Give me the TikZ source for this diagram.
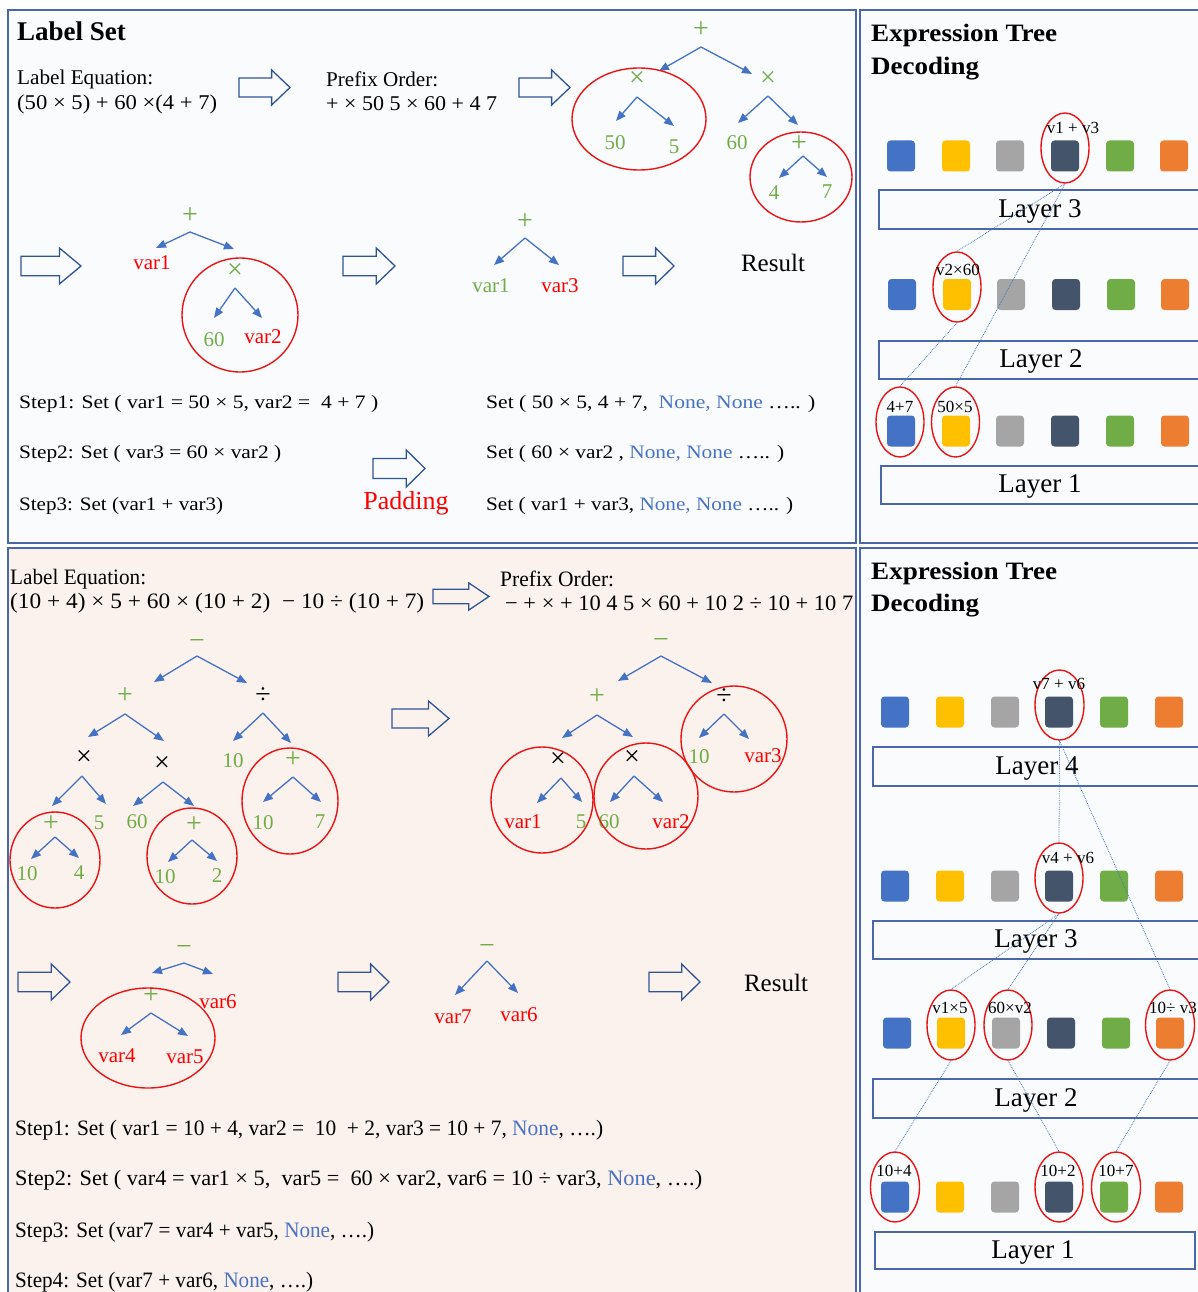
\documentclass[tikz,border=0pt]{standalone}
\usepackage{fontspec}
\setmainfont{Liberation Serif}
\usepackage{graphicx}
\usetikzlibrary{arrows.meta,shapes.geometric,calc}
\definecolor{pborder}{RGB}{74,104,168}
\definecolor{pfillA}{RGB}{249,251,253}
\definecolor{pfillB}{RGB}{252,242,237}
\definecolor{abluea}{RGB}{68,114,196}
\definecolor{bkblue}{RGB}{47,85,151}
\definecolor{tgreen}{RGB}{112,173,71}
\definecolor{tred}{RGB}{255,0,0}
\definecolor{ovred}{RGB}{235,20,20}
\definecolor{sqblue}{RGB}{68,114,196}
\definecolor{sqyellow}{RGB}{255,192,0}
\definecolor{sqgray}{RGB}{165,165,165}
\definecolor{sqdark}{RGB}{68,84,106}
\definecolor{sqgreen}{RGB}{112,173,71}
\definecolor{sqorange}{RGB}{237,125,49}
\definecolor{noneblue}{RGB}{72,114,196}
\newcommand\fsz[1]{\fontsize{#1}{#1}\selectfont}
\newcommand\fitw[2]{\resizebox{#1pt}{\height}{#2}}
\newcommand\bkarr[4]{%
 \pgfmathsetmacro\bkym{(#3+#4)/2}%
 \pgfmathsetmacro\bkbh{0.27*(#4-#3)}%
 \pgfmathsetmacro\bkxh{#2-0.36*(#2-#1)}%
 \draw[blockarr] (#1,\bkym-\bkbh) -- (\bkxh,\bkym-\bkbh) -- (\bkxh,#3) -- (#2,\bkym) -- (\bkxh,#4) -- (\bkxh,\bkym+\bkbh) -- (#1,\bkym+\bkbh) -- cycle;}
\tikzset{
 panel/.style={draw=pborder,line width=1.6},
 tarr/.style={draw=abluea,line width=1.3,-{Triangle[length=10pt,width=8pt]}},
 redov/.style={draw=ovred,line width=1.4,ellipse,inner sep=0},
 lbl/.style={inner sep=0,font=\fsz{21}},
 tg/.style={lbl,text=tgreen},
 tr/.style={lbl,text=tred},
 tk/.style={lbl,text=black},
 opg/.style={inner sep=0,font=\fsz{28},text=tgreen,yshift=-2pt},
 opk/.style={inner sep=0,font=\fsz{28},text=black,yshift=-1pt},
 opm/.style={opg,yshift=-3pt},
 txt/.style={inner sep=0,anchor=west,yshift=-2pt},
 sq/.style={rounded corners=3.5,minimum width=28,minimum height=31,inner sep=0},
 layerbox/.style={draw=pborder,line width=1.6,anchor=north west,inner sep=0},
 layertxt/.style={inner sep=0,font=\fsz{27},yshift=-2.5pt},
 small/.style={inner sep=0,font=\fsz{17}},
 dotl/.style={draw=abluea,densely dotted,line width=0.8},
 blockarr/.style={draw=bkblue,line width=1.3,line join=miter},
}
\begin{document}
\begin{tikzpicture}[x=1pt,y=-1pt]
\useasboundingbox (0,0) rectangle (1198,1292);
\fill[white] (0,0) rectangle (1198,1292);
\draw[panel,fill=pfillA] (8,10) rectangle (856,543);
\draw[panel,fill=pfillA] (860,10) rectangle (1215,543);
\draw[panel,fill=pfillB] (8,548) rectangle (856,1310);
\draw[panel,fill=pfillA] (860,548) rectangle (1215,1310);

% ---------------- top-left panel ----------------
\node[txt,font=\fsz{27}\bfseries] (ls) at (17,29) {Label Set};
\node[txt,font=\fsz{21}] (le1) at (17,77) {\fitw{136}{Label Equation:}};
\node[txt,font=\fsz{21}] (le2) at (17,102) {\fitw{200}{(50 × 5) + 60 ×(4 + 7)}};
\bkarr{239}{290}{70}{105}
\node[txt,font=\fsz{21}] (po1) at (326,77) {\fitw{112}{Prefix Order:}};
\node[txt,font=\fsz{21}] (po2) at (326,102) {\fitw{171}{+ × 50 5 × 60 + 4 7}};
\bkarr{519}{570}{70}{105}

\node[opg] (a0) at (701,28) {+};
\node[opg] (a1) at (637,77) {×};
\node[opg] (a2) at (768,77) {×};
\node[tg] (a3) at (615,143) {50};
\node[tg] (a4) at (674,147) {5};
\node[tg] (a5) at (737,143) {60};
\node[opg] (a6) at (799,142) {+};
\node[tg] (a7) at (774,193) {4};
\node[tg] (a8) at (827,192) {7};
\draw[tarr] ($(a0)+(0,17)$) -- ($(a1)+(22,-8)$);
\draw[tarr] ($(a0)+(0,17)$) -- ($(a2)+(-16,-5)$);
\draw[tarr] ($(a1)+(0,18)$) -- ($(a3)+(1,-22)$);
\draw[tarr] ($(a1)+(0,18)$) -- ($(a4)+(0,-21)$);
\draw[tarr] ($(a2)+(0,17)$) -- ($(a5)+(1,-20)$);
\draw[tarr] ($(a2)+(0,17)$) -- ($(a6)+(-1,-19)$);
\draw[tarr] ($(a6)+(4,12)$) -- ($(a7)+(5,-15)$);
\draw[tarr] ($(a6)+(4,12)$) -- ($(a8)+(0,-15)$);
\node[redov,minimum width=134,minimum height=102] (oa1) at (639,119) {};
\node[redov,minimum width=102,minimum height=90] (oa2) at (801,177) {};

\bkarr{21}{81}{248}{284}
\node[opg] (b0) at (190,214) {+};
\node[tr] (b1) at (152,263) {var1};
\node[opg] (b2) at (235,269) {×};
\node[tg] (b3) at (214,340) {60};
\node[tr] (b4) at (263,337) {var2};
\draw[tarr] ($(b0)+(0,16)$) -- ($(b1)+(4,-15)$);
\draw[tarr] ($(b0)+(0,16)$) -- ($(b2)+(-1,-22)$);
\draw[tarr] ($(b2)+(0,17)$) -- ($(b3)+(0,-22)$);
\draw[tarr] ($(b2)+(0,17)$) -- ($(b4)+(-1,-19)$);
\node[redov,minimum width=116,minimum height=114] (ob1) at (240,315) {};

\bkarr{343}{395}{248}{284}
\node[opg] (c0) at (525,220) {+};
\node[tg] (c1) at (491,286) {var1};
\node[tr] (c2) at (560,286) {var3};
\draw[tarr] ($(c0)+(0,16)$) -- ($(c1)+(3,-21)$);
\draw[tarr] ($(c0)+(0,16)$) -- ($(c2)+(-1,-21)$);
\bkarr{623}{674}{248}{284}
\node[font=\fsz{25},inner sep=0] (res1) at (773,263) {Result};

\node[txt,font=\fsz{19}] (s1) at (19,402) {\fitw{359}{Step1: Set ( var1 = 50 × 5, var2 =\ \ 4 + 7 )}};
\node[txt,font=\fsz{19}] (s2) at (19,452) {\fitw{262}{Step2: Set ( var3 = 60 × var2 )}};
\node[txt,font=\fsz{19}] (s3) at (19,504) {\fitw{204}{Step3: Set (var1 + var3)}};
\node[txt,font=\fsz{19}] (r1) at (486,402) {\fitw{329}{Set ( 50 × 5, 4 + 7,\ \ \textcolor{noneblue}{None, None} ….. )}};
\node[txt,font=\fsz{19}] (r2) at (486,452) {\fitw{298}{Set ( 60 × var2 , \textcolor{noneblue}{None, None} ….. )}};
\node[txt,font=\fsz{19}] (r3) at (486,504) {\fitw{307}{Set ( var1 + var3, \textcolor{noneblue}{None, None} ….. )}};
\bkarr{373}{425}{450}{487}
\node[text=tred,font=\fsz{26},inner sep=0] (pad) at (406,503) {Padding};

% ---------------- top-right panel ----------------
\node[txt,font=\fsz{25}\bfseries] (et1) at (871,33) {\fitw{186}{Expression Tree}};
\node[txt,font=\fsz{25}\bfseries] (et2) at (871,67) {\fitw{108}{Decoding}};
\node[layerbox,minimum width=340,minimum height=39] (lbA3) at (878,189) {};
\node[layerbox,minimum width=340,minimum height=38] (lbA2) at (878,340) {};
\node[layerbox,minimum width=340,minimum height=38] (lbA1) at (880,465) {};
\node[layertxt] (ltA3) at (1040,209) {Layer 3};
\node[layertxt] (ltA2) at (1041,359) {Layer 2};
\node[layertxt] (ltA1) at (1040,484) {Layer 1};
\foreach \xx/\cc [count=\i] in {901/sqblue,956/sqyellow,1010/sqgray,1065/sqdark,1120/sqgreen,1174/sqorange}
  {\node[sq,fill=\cc] (qA3-\i) at (\xx,156) {};}
\foreach \xx/\cc [count=\i] in {902/sqblue,957/sqyellow,1011/sqgray,1066/sqdark,1121/sqgreen,1175/sqorange}
  {\node[sq,fill=\cc] (qA2-\i) at (\xx,294.5) {};}
\foreach \xx/\cc [count=\i] in {901/sqblue,956/sqyellow,1010/sqgray,1065/sqdark,1120/sqgreen,1175/sqorange}
  {\node[sq,fill=\cc] (qA1-\i) at (\xx,431) {};}
\node[redov,minimum width=48,minimum height=70] (oA3) at (1065,148) {};
\node[redov,minimum width=48,minimum height=70] (oA2) at (957,287) {};
\node[redov,minimum width=48,minimum height=70] (oA1a) at (900,422) {};
\node[redov,minimum width=48,minimum height=70] (oA1b) at (955.5,422) {};
\node[small] (kA3) at (1073,128) {v1 + v3};
\node[small] (kA2) at (958,270) {v2×60};
\node[small] (kA1a) at (900,407) {4+7};
\node[small] (kA1b) at (955,407) {50×5};
\draw[dotl] (oA3.south) -- (oA2.north);
\draw[dotl] (oA3.south) -- (oA1b.north);
\draw[dotl] (oA2.south) -- (oA1a.north);

% ---------------- bottom-left panel ----------------
\node[txt,font=\fsz{22}] (ble1) at (10,577) {\fitw{136}{Label Equation:}};
\node[txt,font=\fsz{22}] (ble2) at (10,601) {\fitw{414}{(10 + 4) × 5 + 60 × (10 + 2)\ \ − 10 ÷ (10 + 7)}};
\bkarr{433}{489}{583}{610}
\node[txt,font=\fsz{22}] (bpo1) at (500,577) {\fitw{114}{Prefix Order:}};
\node[txt,font=\fsz{22}] (bpo2) at (505,601) {\fitw{348}{− + × + 10 4 5 × 60 + 10 2 ÷ 10 + 10 7}};

\node[opm] (d0) at (197,639) {−};
\node[opg] (d1) at (125,694) {+};
\node[opk] (d2) at (263,695) {÷};
\node[opk] (d3) at (84,757) {×};
\node[opk] (d4) at (162,763) {×};
\node[tg] (d5) at (233,761) {10};
\node[opg] (d6) at (293,758) {+};
\node[opg] (d7) at (51,822) {+};
\node[tg] (d8) at (99,823) {5};
\node[tg] (d9) at (137,822) {60};
\node[opg] (d10) at (194,823) {+};
\node[tg] (d11) at (263,823) {10};
\node[tg] (d12) at (320,822) {7};
\node[tg] (d13) at (27,874) {10};
\node[tg] (d14) at (79,873) {4};
\node[tg] (d15) at (165,877) {10};
\node[tg] (d16) at (217,876) {2};
\draw[tarr] ($(d0)+(0,12)$) -- ($(d1)+(29,-14)$);
\draw[tarr] ($(d0)+(0,12)$) -- ($(d2)+(-16,-13)$);
\draw[tarr] ($(d1)+(0,18)$) -- ($(d3)+(4,-21)$);
\draw[tarr] ($(d1)+(0,18)$) -- ($(d4)+(2,-23)$);
\draw[tarr] ($(d2)+(0,17)$) -- ($(d5)+(0,-20)$);
\draw[tarr] ($(d2)+(0,17)$) -- ($(d6)+(-2,-17)$);
\draw[tarr] ($(d3)+(-2,18)$) -- ($(d7)+(1,-18)$);
\draw[tarr] ($(d3)+(-2,18)$) -- ($(d8)+(7,-19)$);
\draw[tarr] ($(d4)+(1,18)$) -- ($(d9)+(-4,-16)$);
\draw[tarr] ($(d4)+(1,18)$) -- ($(d10)+(0,-19)$);
\draw[tarr] ($(d6)+(0,17)$) -- ($(d11)+(0,-21)$);
\draw[tarr] ($(d6)+(0,17)$) -- ($(d12)+(1,-20)$);
\draw[tarr] ($(d7)+(4,13)$) -- ($(d13)+(4,-15)$);
\draw[tarr] ($(d7)+(4,13)$) -- ($(d14)+(0,-15)$);
\draw[tarr] ($(d10)+(-2,15)$) -- ($(d15)+(3,-15)$);
\draw[tarr] ($(d10)+(-2,15)$) -- ($(d16)+(0,-15)$);
\node[redov,minimum width=90,minimum height=96] (od1) at (55,860) {};
\node[redov,minimum width=90,minimum height=96] (od2) at (192,856) {};
\node[redov,minimum width=96,minimum height=106] (od3) at (290,801) {};

\bkarr{392}{449}{701}{736}
\node[opm] (e0) at (661,638) {−};
\node[opg] (e1) at (597,695) {+};
\node[opk] (e2) at (724,696) {÷};
\node[opk] (e3) at (558,759) {×};
\node[opk] (e4) at (632,757) {×};
\node[tg] (e5) at (699,757) {10};
\node[tr] (e6) at (763,756) {var3};
\node[tr] (e7) at (523,822) {var1};
\node[tg] (e8) at (581,822) {5};
\node[tg] (e9) at (609,822) {60};
\node[tr] (e10) at (671,822) {var2};
\draw[tarr] ($(e0)+(0,13)$) -- ($(e1)+(21,-16)$);
\draw[tarr] ($(e0)+(0,13)$) -- ($(e2)+(-12,-14)$);
\draw[tarr] ($(e1)+(0,18)$) -- ($(e3)+(4,-22)$);
\draw[tarr] ($(e1)+(0,18)$) -- ($(e4)+(1,-21)$);
\draw[tarr] ($(e2)+(0,17)$) -- ($(e5)+(0,-19)$);
\draw[tarr] ($(e2)+(0,17)$) -- ($(e6)+(-14,-17)$);
\draw[tarr] ($(e3)+(3,18)$) -- ($(e7)+(14,-19)$);
\draw[tarr] ($(e3)+(3,18)$) -- ($(e8)+(1,-20)$);
\draw[tarr] ($(e4)+(2,18)$) -- ($(e9)+(1,-20)$);
\draw[tarr] ($(e4)+(2,18)$) -- ($(e10)+(-8,-20)$);
\node[redov,minimum width=102,minimum height=106] (oe1) at (542,800) {};
\node[redov,minimum width=104,minimum height=106] (oe2) at (646,796) {};
\node[redov,minimum width=106,minimum height=106] (oe3) at (734,739) {};

\bkarr{18}{70}{964}{1000}
\node[opm] (f0) at (184,945) {−};
\node[opg] (f1) at (151,994) {+};
\node[tr] (f2) at (218,1002) {var6};
\node[tr] (f3) at (117,1056) {var4};
\node[tr] (f4) at (185,1057) {var5};
\draw[tarr] ($(f0)+(0,13)$) -- ($(f1)+(1,-23)$);
\draw[tarr] ($(f0)+(0,13)$) -- ($(f2)+(-5,-28)$);
\draw[tarr] ($(f1)+(0,17)$) -- ($(f3)+(4,-21)$);
\draw[tarr] ($(f1)+(0,17)$) -- ($(f4)+(3,-21)$);
\node[redov,minimum width=134,minimum height=100] (of1) at (148,1038) {};

\bkarr{338}{389}{964}{1000}
\node[opm] (g0) at (487,944) {−};
\node[tr] (g1) at (453,1017) {var7};
\node[tr] (g2) at (519,1015) {var6};
\draw[tarr] ($(g0)+(0,12)$) -- ($(g1)+(2,-22)$);
\draw[tarr] ($(g0)+(0,12)$) -- ($(g2)+(-1,-22)$);
\bkarr{649}{700}{964}{1000}
\node[font=\fsz{25},inner sep=0] (res2) at (776,983) {Result};

\node[txt,font=\fsz{22}] (bs1) at (15,1128) {\fitw{588}{Step1: Set ( var1 = 10 + 4, var2 =\ \ 10\ \ + 2, var3 = 10 + 7, \textcolor{noneblue}{None}, ….)}};
\node[txt,font=\fsz{22}] (bs2) at (15,1178) {\fitw{687}{Step2: Set ( var4 = var1 × 5,\ \ var5 =\ \ 60 × var2, var6 = 10 ÷ var3, \textcolor{noneblue}{None}, ….)}};
\node[txt,font=\fsz{22}] (bs3) at (15,1230) {\fitw{359}{Step3: Set (var7 = var4 + var5, \textcolor{noneblue}{None}, ….)}};
\node[txt,font=\fsz{22}] (bs4) at (15,1280) {\fitw{298}{Step4: Set (var7 + var6, \textcolor{noneblue}{None}, ….)}};

% ---------------- bottom-right panel ----------------
\node[txt,font=\fsz{25}\bfseries] (et3) at (871,571) {\fitw{186}{Expression Tree}};
\node[txt,font=\fsz{25}\bfseries] (et4) at (871,604) {\fitw{108}{Decoding}};
\node[layerbox,minimum width=340,minimum height=39] (lbB4) at (872,746) {};
\node[layerbox,minimum width=340,minimum height=38] (lbB3) at (872,920) {};
\node[layerbox,minimum width=340,minimum height=39] (lbB2) at (872,1078) {};
\node[layerbox,minimum width=320,minimum height=37] (lbB1) at (874,1231) {};
\node[layertxt] (ltB4) at (1037,766) {Layer 4};
\node[layertxt] (ltB3) at (1036,939) {Layer 3};
\node[layertxt] (ltB2) at (1036,1098) {Layer 2};
\node[layertxt] (ltB1) at (1033,1250) {Layer 1};
\foreach \xx/\cc [count=\i] in {895/sqblue,950/sqyellow,1005/sqgray,1059/sqdark,1114/sqgreen,1169/sqorange}
  {\node[sq,fill=\cc] (qB4-\i) at (\xx,712) {};}
\foreach \xx/\cc [count=\i] in {895/sqblue,950/sqyellow,1005/sqgray,1059/sqdark,1114/sqgreen,1169/sqorange}
  {\node[sq,fill=\cc] (qB3-\i) at (\xx,886) {};}
\foreach \xx/\cc [count=\i] in {897/sqblue,951/sqyellow,1006/sqgray,1061/sqdark,1116/sqgreen,1170/sqorange}
  {\node[sq,fill=\cc] (qB2-\i) at (\xx,1033) {};}
\foreach \xx/\cc [count=\i] in {895/sqblue,950/sqyellow,1005/sqgray,1059/sqdark,1114/sqgreen,1169/sqorange}
  {\node[sq,fill=\cc] (qB1-\i) at (\xx,1197) {};}
\node[redov,minimum width=49,minimum height=70] (oB4) at (1059.5,705) {};
\node[redov,minimum width=48,minimum height=70] (oB3) at (1059,878) {};
\node[redov,minimum width=48,minimum height=70] (oB2a) at (951,1025) {};
\node[redov,minimum width=48,minimum height=70] (oB2b) at (1008,1025) {};
\node[redov,minimum width=49,minimum height=70] (oB2c) at (1170,1025) {};
\node[redov,minimum width=49,minimum height=70] (oB1a) at (895,1187) {};
\node[redov,minimum width=48,minimum height=70] (oB1b) at (1059,1187) {};
\node[redov,minimum width=49,minimum height=70] (oB1c) at (1116,1187) {};
\node[small] (kB4) at (1059,684) {v7 + v6};
\node[small] (kB3) at (1068,858) {v4 + v6};
\node[small] (kB2a) at (950,1008) {v1×5};
\node[small] (kB2b) at (1010,1008) {60×v2};
\node[small,anchor=west] (kB2c) at (1149,1008) {10÷ v3};
\node[small] (kB1a) at (894,1171) {10+4};
\node[small] (kB1b) at (1058,1171) {10+2};
\node[small] (kB1c) at (1116,1171) {10+7};
\draw[dotl] (oB4.south) -- (oB3.north);
\draw[dotl] (oB4.south) -- (oB2c.north);
\draw[dotl] (oB3.south) -- (oB2a.north);
\draw[dotl] (oB3.south) -- (oB2b.north);
\draw[dotl] (oB2a.south) -- (oB1a.north);
\draw[dotl] (oB2b.south) -- (oB1b.north);
\draw[dotl] (oB2c.south) -- (oB1c.north);
\end{tikzpicture}
\end{document}
